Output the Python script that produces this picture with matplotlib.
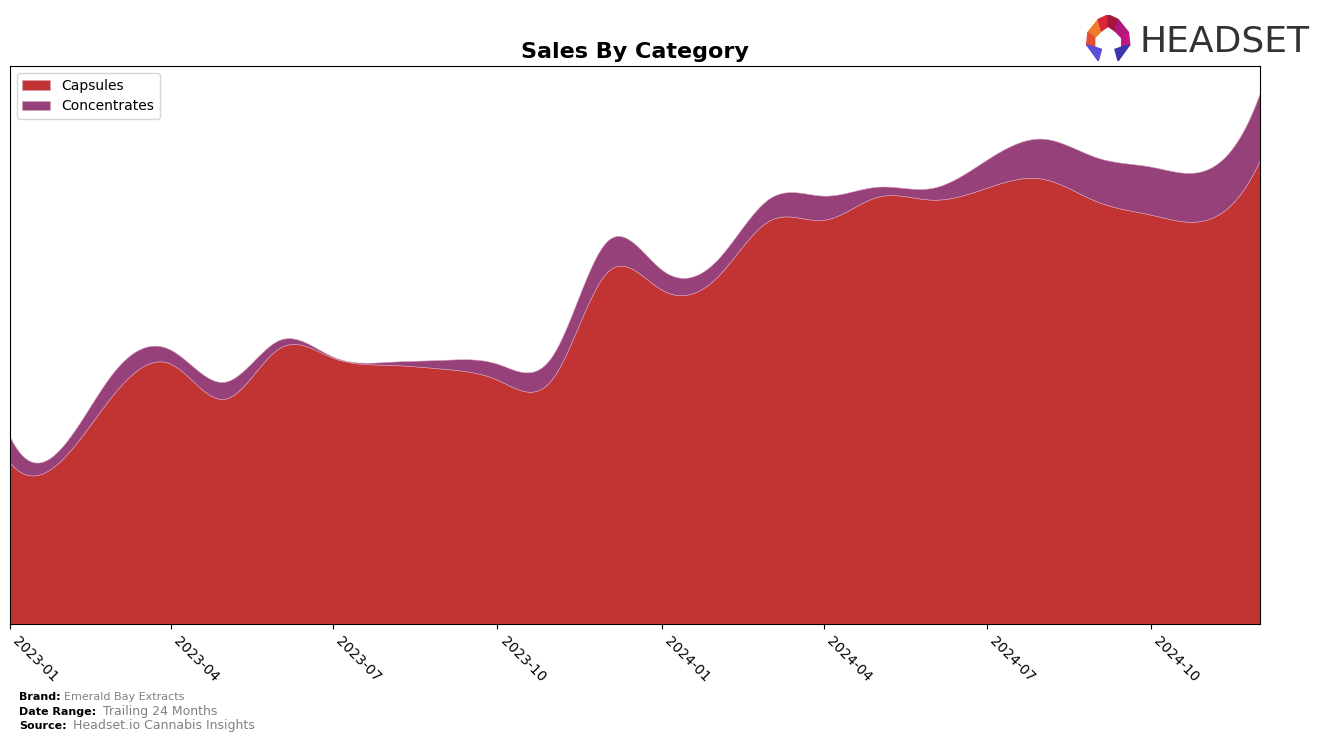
import numpy as np
import pandas as pd
import matplotlib

matplotlib.use("Agg")
import matplotlib.pyplot as plt
import matplotlib.dates as mdates
from matplotlib.patches import Polygon

# monthly sales by category (arbitrary units)
months = pd.date_range("2023-01-01", "2024-12-01", freq="MS")
capsules = [161, 168, 232, 260, 225, 276, 266, 259, 255, 244, 246, 351,
            334, 347, 403, 404, 427, 424, 436, 445, 422, 409, 404, 464]
concentrates = [26, 13, 22, 14, 17, 8, 1, 3, 9, 16, 23, 31,
                20, 17, 22, 24, 10, 12, 28, 40, 44, 48, 50, 67]
categories = ["Capsules", "Concentrates"]
colors = ["#c13433", "#96417a"]

brand = "Emerald Bay Extracts"
date_range = "Trailing 24 Months"
source = "Headset.io Cannabis Insights"


def smooth(x, y, xs):
    """not-a-knot cubic spline through (x, y), evaluated at xs"""
    x = np.asarray(x, float)
    y = np.asarray(y, float)
    n = len(x)
    h = np.diff(x)
    A = np.zeros((n, n))
    b = np.zeros(n)
    for i in range(1, n - 1):
        A[i, i - 1] = h[i - 1]
        A[i, i] = 2 * (h[i - 1] + h[i])
        A[i, i + 1] = h[i]
        b[i] = 6 * ((y[i + 1] - y[i]) / h[i] - (y[i] - y[i - 1]) / h[i - 1])
    A[0, 0], A[0, 1], A[0, 2] = h[1], -(h[0] + h[1]), h[0]
    A[-1, -3], A[-1, -2], A[-1, -1] = h[-1], -(h[-2] + h[-1]), h[-2]
    M = np.linalg.solve(A, b)
    idx = np.clip(np.searchsorted(x, xs) - 1, 0, n - 2)
    x0, x1 = x[idx], x[idx + 1]
    hh = x1 - x0
    return (M[idx] * (x1 - xs) ** 3 / (6 * hh)
            + M[idx + 1] * (xs - x0) ** 3 / (6 * hh)
            + (y[idx] / hh - M[idx] * hh / 6) * (x1 - xs)
            + (y[idx + 1] / hh - M[idx + 1] * hh / 6) * (xs - x0))


xd = mdates.date2num(months.to_pydatetime())
xs = np.linspace(xd[0], xd[-1], 800)
ys = [np.clip(smooth(xd, s, xs), 0, None) for s in (capsules, concentrates)]

fig = plt.figure(figsize=(13.24, 7.42), dpi=100)
ax = fig.add_axes([0.00755, 0.159, 0.9441, 0.752])

ax.stackplot(xs, *ys, labels=categories, colors=colors,
             edgecolor="#d9a0b8", linewidth=0.4)
ax.set_xlim(xd[0], xd[-1])
ax.set_ylim(0, None)
ax.set_yticks([])
ax.xaxis.set_major_locator(mdates.MonthLocator(bymonth=[1, 4, 7, 10]))
ax.xaxis.set_major_formatter(mdates.DateFormatter("%Y-%m"))
plt.setp(ax.get_xticklabels(), rotation=-45, ha="left", fontsize=10)
ax.set_title("Sales By Category", fontsize=16, fontweight="bold", pad=6)
ax.legend(loc="upper left", fontsize=10)

# footer
fig.text(0.0144, 0.057, "Brand:", fontsize=8, fontweight="bold")
fig.text(0.048, 0.057, brand, fontsize=8, color="gray")
fig.text(0.0144, 0.037, "Date Range:", fontsize=8, fontweight="bold")
fig.text(0.0775, 0.037, date_range, fontsize=9, color="gray")
fig.text(0.0144, 0.018, "Source:", fontsize=8, fontweight="bold")
fig.text(0.055, 0.018, source, fontsize=9, color="gray")

# logo
fig.text(0.861, 0.93, "HEADSET", fontsize=26, color="#333333")
lax = fig.add_axes([0.82, 0.918, 0.034, 0.062])
lax.set_xlim(0, 1)
lax.set_ylim(0, 1)
lax.axis("off")
pieces = [
    ([(0.05, 0.62), (0.28, 0.9), (0.35, 0.65), (0.2, 0.5)], "#f07c2a"),
    ([(0.28, 0.9), (0.5, 1.0), (0.5, 0.75), (0.35, 0.65)], "#d8263a"),
    ([(0.5, 1.0), (0.72, 0.9), (0.65, 0.65), (0.5, 0.75)], "#a3173a"),
    ([(0.72, 0.9), (0.95, 0.62), (0.8, 0.5), (0.65, 0.65)], "#b0197a"),
    ([(0.05, 0.62), (0.2, 0.5), (0.2, 0.3), (0.02, 0.35)], "#e54f2f"),
    ([(0.95, 0.62), (0.98, 0.35), (0.8, 0.3), (0.8, 0.5)], "#c71585"),
    ([(0.02, 0.35), (0.2, 0.3), (0.35, 0.25), (0.28, 0.0)], "#5b4fd6"),
    ([(0.98, 0.35), (0.8, 0.3), (0.65, 0.25), (0.72, 0.0)], "#3a35a8"),
]
for pts, c in pieces:
    lax.add_patch(Polygon(pts, closed=True, color=c))

fig.savefig("out.png", dpi=100)
